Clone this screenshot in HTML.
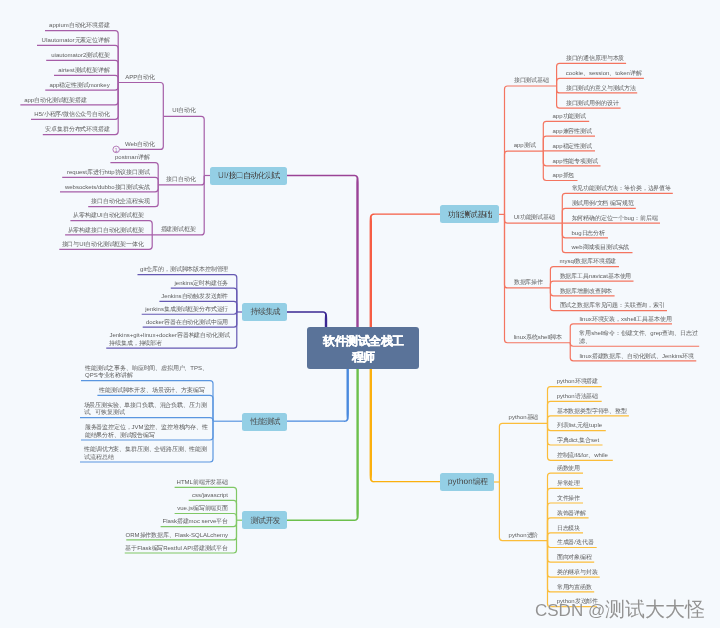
<!DOCTYPE html>
<html><head><meta charset="utf-8"><style>
html,body{margin:0;padding:0;}
body{width:720px;height:628px;background:#f5f9fd;position:relative;overflow:hidden;font-family:"Liberation Sans",sans-serif;}
.t{position:absolute;font-size:6px;line-height:7.7px;color:#5c5c5c;white-space:nowrap;letter-spacing:-0.15px;}
.a{letter-spacing:0;}
.b{position:absolute;background:#94cfe5;border-radius:2.5px;color:#4a4a4a;white-space:nowrap;display:flex;align-items:center;justify-content:center;}
.b i{font-style:normal;letter-spacing:0.1px;}
.b span{font-size:16.4px;line-height:17px;letter-spacing:-1.4px;text-indent:1.4px;transform:scale(0.5) translateY(-0.4px);display:inline-block;will-change:transform;}
.c{position:absolute;left:307px;top:327px;width:112px;height:42px;background:#5a7399;border-radius:3px;}
.c span{position:absolute;left:0;top:6px;width:112px;color:#fff;font-weight:bold;font-size:11.5px;line-height:16px;text-align:center;letter-spacing:-0.5px;text-indent:0.5px;-webkit-text-stroke:0.35px #fff;will-change:transform;}
.wm{position:absolute;left:535px;top:598px;font-size:20px;line-height:22px;color:rgba(120,120,120,0.8);white-space:nowrap;text-shadow:0 0 1.5px rgba(255,255,255,.9);}
.wm span{font-size:17px;}
</style></head><body>
<svg width="720" height="628" viewBox="0 0 720 628" style="position:absolute;left:0;top:0"><path d="M118.2,82.5 V33.7 Q118.2,30.7 115.2,30.7 H45" fill="none" stroke="#a65ea8" stroke-width="1.2"/><path d="M118.2,82.5 V48.4 Q118.2,45.4 115.2,45.4 H37" fill="none" stroke="#a65ea8" stroke-width="1.2"/><path d="M118.2,82.5 V63.3 Q118.2,60.3 115.2,60.3 H46.2" fill="none" stroke="#a65ea8" stroke-width="1.2"/><path d="M118.2,82.5 V78.3 Q118.2,75.3 115.2,75.3 H54" fill="none" stroke="#a65ea8" stroke-width="1.2"/><path d="M118.2,82.5 V87.1 Q118.2,90.1 115.2,90.1 H45.25" fill="none" stroke="#a65ea8" stroke-width="1.2"/><path d="M118.2,82.5 V101.8 Q118.2,104.8 115.2,104.8 H20.35" fill="none" stroke="#a65ea8" stroke-width="1.2"/><path d="M118.2,82.5 V116.3 Q118.2,119.3 115.2,119.3 H31" fill="none" stroke="#a65ea8" stroke-width="1.2"/><path d="M118.2,82.5 V131.6 Q118.2,134.6 115.2,134.6 H42.8" fill="none" stroke="#a65ea8" stroke-width="1.2"/><path d="M163.3,116.3 V85.5 Q163.3,82.5 160.3,82.5 H118.2" fill="none" stroke="#a65ea8" stroke-width="1.2"/><path d="M163.3,116.3 V146.4 Q163.3,149.4 160.3,149.4 H119.6" fill="none" stroke="#a65ea8" stroke-width="1.2"/><path d="M158.2,184.9 V165.7 Q158.2,162.7 155.2,162.7 H110.4" fill="none" stroke="#a65ea8" stroke-width="1.2"/><path d="M158.2,184.9 V180.3 Q158.2,177.3 155.2,177.3 H62.2" fill="none" stroke="#a65ea8" stroke-width="1.2"/><path d="M158.2,184.9 V188.8 Q158.2,191.8 155.2,191.8 H60" fill="none" stroke="#a65ea8" stroke-width="1.2"/><path d="M158.2,184.9 V203.7 Q158.2,206.7 155.2,206.7 H88.2" fill="none" stroke="#a65ea8" stroke-width="1.2"/><path d="M152.2,234.9 V223.7 Q152.2,220.7 149.2,220.7 H70.4" fill="none" stroke="#a65ea8" stroke-width="1.2"/><path d="M152.2,234.9 H65.1" fill="none" stroke="#a65ea8" stroke-width="1.2"/><path d="M152.2,234.9 V246.3 Q152.2,249.3 149.2,249.3 H59.3" fill="none" stroke="#a65ea8" stroke-width="1.2"/><path d="M204.2,175.5 V119.3 Q204.2,116.3 201.2,116.3 H163.3" fill="none" stroke="#a65ea8" stroke-width="1.2"/><path d="M204.2,175.5 V181.9 Q204.2,184.9 201.2,184.9 H158.2" fill="none" stroke="#a65ea8" stroke-width="1.2"/><path d="M204.2,175.5 V231.9 Q204.2,234.9 201.2,234.9 H152.2" fill="none" stroke="#a65ea8" stroke-width="1.2"/><path d="M236.8,312 V277.7 Q236.8,274.7 233.8,274.7 H137.5" fill="none" stroke="#6558b2" stroke-width="1.2"/><path d="M236.8,312 V291.2 Q236.8,288.2 233.8,288.2 H170.8" fill="none" stroke="#6558b2" stroke-width="1.2"/><path d="M236.8,312 V304.3 Q236.8,301.3 233.8,301.3 H159.4" fill="none" stroke="#6558b2" stroke-width="1.2"/><path d="M236.8,312 V311.25 Q236.8,314.25 233.8,314.25 H141.7" fill="none" stroke="#6558b2" stroke-width="1.2"/><path d="M236.8,312 V324.2 Q236.8,327.2 233.8,327.2 H142.7" fill="none" stroke="#6558b2" stroke-width="1.2"/><path d="M236.8,312 V345.2 Q236.8,348.2 233.8,348.2 H106.25" fill="none" stroke="#6558b2" stroke-width="1.2"/><path d="M213,421.2 V383.6 Q213,380.6 210.0,380.6 H81" fill="none" stroke="#5a96e0" stroke-width="1.2"/><path d="M213,421.2 V398.4 Q213,395.4 210.0,395.4 H97.4" fill="none" stroke="#5a96e0" stroke-width="1.2"/><path d="M213,421.2 V420.7 Q213,417.7 210.0,417.7 H80" fill="none" stroke="#5a96e0" stroke-width="1.2"/><path d="M213,421.2 V437.0 Q213,440 210.0,440 H81" fill="none" stroke="#5a96e0" stroke-width="1.2"/><path d="M213,421.2 V459.0 Q213,462 210.0,462 H80" fill="none" stroke="#5a96e0" stroke-width="1.2"/><path d="M236.5,520.2 V490.4 Q236.5,487.4 233.5,487.4 H174.6" fill="none" stroke="#80c866" stroke-width="1.2"/><path d="M236.5,520.2 V503.4 Q236.5,500.4 233.5,500.4 H188.7" fill="none" stroke="#80c866" stroke-width="1.2"/><path d="M236.5,520.2 V516.5 Q236.5,513.5 233.5,513.5 H174.6" fill="none" stroke="#80c866" stroke-width="1.2"/><path d="M236.5,520.2 V523.6 Q236.5,526.6 233.5,526.6 H160.6" fill="none" stroke="#80c866" stroke-width="1.2"/><path d="M236.5,520.2 V536.9 Q236.5,539.9 233.5,539.9 H126.25" fill="none" stroke="#80c866" stroke-width="1.2"/><path d="M236.5,520.2 V550.0 Q236.5,553 233.5,553 H124.75" fill="none" stroke="#80c866" stroke-width="1.2"/><path d="M504.5,214.4 V89.0 Q504.5,86 507.5,86 H556.6" fill="none" stroke="#f47560" stroke-width="1.2"/><path d="M504.5,214.4 V154.2 Q504.5,151.2 507.5,151.2 H543.3" fill="none" stroke="#f47560" stroke-width="1.2"/><path d="M504.5,214.4 V220.2 Q504.5,223.2 507.5,223.2 H562.3" fill="none" stroke="#f47560" stroke-width="1.2"/><path d="M504.5,214.4 V284.9 Q504.5,287.9 507.5,287.9 H550.4" fill="none" stroke="#f47560" stroke-width="1.2"/><path d="M504.5,214.4 V339.75 Q504.5,342.75 507.5,342.75 H570.25" fill="none" stroke="#f47560" stroke-width="1.2"/><path d="M556.6,86 V66.3 Q556.6,63.3 559.6,63.3 H626.1" fill="none" stroke="#f47560" stroke-width="1.2"/><path d="M556.6,86 V81.4 Q556.6,78.4 559.6,78.4 H643.9" fill="none" stroke="#f47560" stroke-width="1.2"/><path d="M556.6,86 V89.9 Q556.6,92.9 559.6,92.9 H637.2" fill="none" stroke="#f47560" stroke-width="1.2"/><path d="M556.6,86 V105.2 Q556.6,108.2 559.6,108.2 H620.6" fill="none" stroke="#f47560" stroke-width="1.2"/><path d="M543.3,151.2 V124.3 Q543.3,121.3 546.3,121.3 H589.2" fill="none" stroke="#f47560" stroke-width="1.2"/><path d="M543.3,151.2 V139.2 Q543.3,136.2 546.3,136.2 H595" fill="none" stroke="#f47560" stroke-width="1.2"/><path d="M543.3,150.8 H595" fill="none" stroke="#f47560" stroke-width="1.2"/><path d="M543.3,151.2 V162.8 Q543.3,165.8 546.3,165.8 H600.5" fill="none" stroke="#f47560" stroke-width="1.2"/><path d="M543.3,151.2 V177.5 Q543.3,180.5 546.3,180.5 H577.5" fill="none" stroke="#f47560" stroke-width="1.2"/><path d="M562.3,223.2 V196.4 Q562.3,193.4 565.3,193.4 H672.8" fill="none" stroke="#f47560" stroke-width="1.2"/><path d="M562.3,223.2 V211.3 Q562.3,208.3 565.3,208.3 H635.8" fill="none" stroke="#f47560" stroke-width="1.2"/><path d="M562.3,223.2 H660" fill="none" stroke="#f47560" stroke-width="1.2"/><path d="M562.3,223.2 V234.8 Q562.3,237.8 565.3,237.8 H608" fill="none" stroke="#f47560" stroke-width="1.2"/><path d="M562.3,223.2 V249.7 Q562.3,252.7 565.3,252.7 H632.5" fill="none" stroke="#f47560" stroke-width="1.2"/><path d="M550.4,288.2 V269.6 Q550.4,266.6 553.4,266.6 H619" fill="none" stroke="#f47560" stroke-width="1.2"/><path d="M550.4,288.2 V284.2 Q550.4,281.2 553.4,281.2 H633.5" fill="none" stroke="#f47560" stroke-width="1.2"/><path d="M550.4,288.2 V292.8 Q550.4,295.8 553.4,295.8 H614.6" fill="none" stroke="#f47560" stroke-width="1.2"/><path d="M550.4,288.2 V307.7 Q550.4,310.7 553.4,310.7 H667" fill="none" stroke="#f47560" stroke-width="1.2"/><path d="M570.25,342.5 V326.8 Q570.25,323.8 573.25,323.8 H672" fill="none" stroke="#f47560" stroke-width="1.2"/><path d="M570.25,342.5 V343.25 Q570.25,346.25 573.25,346.25 H699.2" fill="none" stroke="#f47560" stroke-width="1.2"/><path d="M570.25,342.5 V357.8 Q570.25,360.8 573.25,360.8 H696.25" fill="none" stroke="#f47560" stroke-width="1.2"/><path d="M499.4,482 V426.3 Q499.4,423.3 502.4,423.3 H547.5" fill="none" stroke="#fbbd3a" stroke-width="1.2"/><path d="M499.4,482 V537.6 Q499.4,540.6 502.4,540.6 H547.5" fill="none" stroke="#fbbd3a" stroke-width="1.2"/><path d="M547.5,423.5 V389.7 Q547.5,386.7 550.5,386.7 H601.7" fill="none" stroke="#fbbd3a" stroke-width="1.2"/><path d="M547.5,423.5 V404.4 Q547.5,401.4 550.5,401.4 H601.7" fill="none" stroke="#fbbd3a" stroke-width="1.2"/><path d="M547.5,423.5 V418.8 Q547.5,415.8 550.5,415.8 H628.9" fill="none" stroke="#fbbd3a" stroke-width="1.2"/><path d="M547.5,423.5 V427.6 Q547.5,430.6 550.5,430.6 H605.8" fill="none" stroke="#fbbd3a" stroke-width="1.2"/><path d="M547.5,423.5 V442.0 Q547.5,445 550.5,445 H602.5" fill="none" stroke="#fbbd3a" stroke-width="1.2"/><path d="M547.5,423.5 V457.3 Q547.5,460.3 550.5,460.3 H612.8" fill="none" stroke="#fbbd3a" stroke-width="1.2"/><path d="M547.5,540 V476.1 Q547.5,473.1 550.5,473.1 H583" fill="none" stroke="#fbbd3a" stroke-width="1.2"/><path d="M547.5,540 V491.3 Q547.5,488.3 550.5,488.3 H583" fill="none" stroke="#fbbd3a" stroke-width="1.2"/><path d="M547.5,540 V506.0 Q547.5,503 550.5,503 H583" fill="none" stroke="#fbbd3a" stroke-width="1.2"/><path d="M547.5,540 V520.8 Q547.5,517.8 550.5,517.8 H588.6" fill="none" stroke="#fbbd3a" stroke-width="1.2"/><path d="M547.5,540 V535.8 Q547.5,532.8 550.5,532.8 H583" fill="none" stroke="#fbbd3a" stroke-width="1.2"/><path d="M547.5,540 V544.5 Q547.5,547.5 550.5,547.5 H596.7" fill="none" stroke="#fbbd3a" stroke-width="1.2"/><path d="M547.5,540 V559.2 Q547.5,562.2 550.5,562.2 H594.2" fill="none" stroke="#fbbd3a" stroke-width="1.2"/><path d="M547.5,540 V574.2 Q547.5,577.2 550.5,577.2 H599.7" fill="none" stroke="#fbbd3a" stroke-width="1.2"/><path d="M547.5,540 V588.9 Q547.5,591.9 550.5,591.9 H594.2" fill="none" stroke="#fbbd3a" stroke-width="1.2"/><path d="M547.5,540 V603.7 Q547.5,606.7 550.5,606.7 H597" fill="none" stroke="#fbbd3a" stroke-width="1.2"/><path d="M204.2,175.5 H210" fill="none" stroke="#a65ea8" stroke-width="1.2"/><path d="M236.8,312 H242.1" fill="none" stroke="#6558b2" stroke-width="1.2"/><path d="M213,421.2 H242" fill="none" stroke="#5a96e0" stroke-width="1.2"/><path d="M236.5,520.2 H242" fill="none" stroke="#80c866" stroke-width="1.2"/><path d="M499,214.4 H504.5" fill="none" stroke="#f47560" stroke-width="1.2"/><path d="M494,482 H499.4" fill="none" stroke="#fbbd3a" stroke-width="1.2"/><path d="M286.80,176.15 L287.81,176.15 L288.82,176.15 L289.83,176.15 L290.84,176.15 L291.85,176.15 L292.86,176.15 L293.87,176.15 L294.88,176.15 L295.89,176.15 L296.90,176.15 L297.91,176.15 L298.93,176.15 L299.94,176.15 L300.95,176.15 L301.96,176.15 L302.97,176.15 L303.98,176.15 L304.99,176.15 L306.00,176.15 L307.01,176.15 L308.02,176.15 L309.03,176.15 L310.04,176.15 L311.05,176.15 L312.06,176.15 L313.07,176.15 L314.08,176.15 L315.09,176.15 L316.10,176.15 L317.11,176.15 L318.12,176.15 L319.13,176.15 L320.14,176.15 L321.16,176.15 L322.17,176.15 L323.18,176.15 L324.19,176.15 L325.20,176.15 L326.21,176.15 L327.22,176.15 L328.23,176.15 L329.24,176.15 L330.25,176.15 L331.26,176.15 L332.27,176.15 L333.28,176.15 L334.29,176.15 L335.30,176.15 L336.31,176.15 L337.32,176.15 L338.33,176.15 L339.34,176.15 L340.35,176.15 L341.36,176.15 L342.37,176.15 L343.39,176.15 L344.40,176.15 L345.41,176.15 L346.42,176.15 L347.43,176.15 L348.44,176.15 L349.45,176.15 L350.46,176.15 L351.47,176.15 L352.48,176.15 L353.49,176.15 L354.49,176.18 L354.80,176.21 L355.09,176.29 L355.37,176.40 L355.62,176.55 L355.85,176.73 L356.06,176.94 L356.22,177.18 L356.36,177.43 L356.46,177.69 L356.52,177.96 L356.54,178.23 L356.53,178.52 L356.46,179.50 L356.40,180.51 L356.35,181.51 L356.31,182.51 L356.30,183.52 L356.30,184.52 L356.30,185.52 L356.30,186.53 L356.30,187.53 L356.30,188.53 L356.30,189.54 L356.30,190.54 L356.30,191.54 L356.30,192.55 L356.30,193.55 L356.30,194.55 L356.30,195.56 L356.30,196.56 L356.30,197.56 L356.30,198.57 L356.30,199.57 L356.30,200.57 L356.30,201.58 L356.30,202.58 L356.30,203.58 L356.30,204.59 L356.30,205.59 L356.30,206.59 L356.30,207.60 L356.30,208.60 L356.30,209.60 L356.30,210.61 L356.30,211.61 L356.30,212.61 L356.30,213.62 L356.30,214.62 L356.30,215.62 L356.30,216.63 L356.30,217.63 L356.30,218.63 L356.30,219.64 L356.30,220.64 L356.30,221.64 L356.30,222.65 L356.30,223.65 L356.30,224.65 L356.30,225.66 L356.30,226.66 L356.30,227.66 L356.30,228.67 L356.30,229.67 L356.30,230.67 L356.30,231.68 L356.30,232.68 L356.30,233.68 L356.30,234.69 L356.30,235.69 L356.30,236.69 L356.30,237.70 L356.30,238.70 L356.30,239.70 L356.30,240.71 L356.30,241.71 L356.30,242.71 L356.30,243.72 L356.30,244.72 L356.30,245.72 L356.30,246.73 L356.30,247.73 L356.30,248.73 L356.30,249.74 L356.30,250.74 L356.30,251.74 L356.30,252.75 L356.30,253.75 L356.30,254.76 L356.30,255.76 L356.30,256.76 L356.30,257.77 L356.30,258.77 L356.30,259.77 L356.30,260.78 L356.30,261.78 L356.30,262.78 L356.30,263.79 L356.30,264.79 L356.30,265.79 L356.30,266.80 L356.30,267.80 L356.30,268.80 L356.30,269.81 L356.30,270.81 L356.30,271.81 L356.30,272.82 L356.30,273.82 L356.30,274.82 L356.30,275.83 L356.30,276.83 L356.30,277.83 L356.30,278.84 L356.30,279.84 L356.30,280.84 L356.30,281.85 L356.30,282.85 L356.30,283.85 L356.30,284.86 L356.30,285.86 L356.30,286.86 L356.30,287.87 L356.30,288.87 L356.30,289.87 L356.30,290.88 L356.30,291.88 L356.30,292.88 L356.30,293.89 L356.30,294.89 L356.30,295.89 L356.30,296.90 L356.30,297.90 L356.30,298.90 L356.30,299.91 L356.30,300.91 L356.30,301.91 L356.30,302.92 L356.30,303.92 L356.30,304.92 L356.30,305.93 L356.30,306.93 L356.30,307.93 L356.30,308.94 L356.30,309.94 L356.30,310.94 L356.30,311.95 L356.30,312.95 L356.30,313.95 L356.30,314.96 L356.30,315.96 L356.30,316.96 L356.30,317.97 L356.30,318.97 L356.30,319.97 L356.30,320.98 L356.30,321.98 L356.30,322.98 L356.30,323.99 L356.30,324.99 L356.30,325.99 L356.30,327.00 L356.30,328.00 L358.70,328.00 L358.70,327.00 L358.70,325.99 L358.70,324.99 L358.70,323.99 L358.70,322.98 L358.70,321.98 L358.70,320.98 L358.70,319.97 L358.70,318.97 L358.70,317.97 L358.70,316.96 L358.70,315.96 L358.70,314.96 L358.70,313.95 L358.70,312.95 L358.70,311.95 L358.70,310.94 L358.70,309.94 L358.70,308.94 L358.70,307.93 L358.70,306.93 L358.70,305.93 L358.70,304.92 L358.70,303.92 L358.70,302.92 L358.70,301.91 L358.70,300.91 L358.70,299.91 L358.70,298.90 L358.70,297.90 L358.70,296.90 L358.70,295.89 L358.70,294.89 L358.70,293.89 L358.70,292.88 L358.70,291.88 L358.70,290.88 L358.70,289.87 L358.70,288.87 L358.70,287.87 L358.70,286.86 L358.70,285.86 L358.70,284.86 L358.70,283.85 L358.70,282.85 L358.70,281.85 L358.70,280.84 L358.70,279.84 L358.70,278.84 L358.70,277.83 L358.70,276.83 L358.70,275.83 L358.70,274.82 L358.70,273.82 L358.70,272.82 L358.70,271.81 L358.70,270.81 L358.70,269.81 L358.70,268.80 L358.70,267.80 L358.70,266.80 L358.70,265.79 L358.70,264.79 L358.70,263.79 L358.70,262.78 L358.70,261.78 L358.70,260.78 L358.70,259.77 L358.70,258.77 L358.70,257.77 L358.70,256.76 L358.70,255.76 L358.70,254.76 L358.70,253.75 L358.70,252.75 L358.70,251.74 L358.70,250.74 L358.70,249.74 L358.70,248.73 L358.70,247.73 L358.70,246.73 L358.70,245.72 L358.70,244.72 L358.70,243.72 L358.70,242.71 L358.70,241.71 L358.70,240.71 L358.70,239.70 L358.70,238.70 L358.70,237.70 L358.70,236.69 L358.70,235.69 L358.70,234.69 L358.70,233.68 L358.70,232.68 L358.70,231.68 L358.70,230.67 L358.70,229.67 L358.70,228.67 L358.70,227.66 L358.70,226.66 L358.70,225.66 L358.70,224.65 L358.70,223.65 L358.70,222.65 L358.70,221.64 L358.70,220.64 L358.70,219.64 L358.70,218.63 L358.70,217.63 L358.70,216.63 L358.70,215.62 L358.70,214.62 L358.70,213.62 L358.70,212.61 L358.70,211.61 L358.70,210.61 L358.70,209.60 L358.70,208.60 L358.70,207.60 L358.70,206.59 L358.70,205.59 L358.70,204.59 L358.70,203.58 L358.70,202.58 L358.70,201.58 L358.70,200.57 L358.70,199.57 L358.70,198.57 L358.70,197.56 L358.70,196.56 L358.70,195.56 L358.70,194.55 L358.70,193.55 L358.70,192.55 L358.70,191.54 L358.70,190.54 L358.70,189.54 L358.70,188.53 L358.70,187.53 L358.70,186.53 L358.70,185.52 L358.70,184.52 L358.70,183.52 L358.69,182.51 L358.65,181.51 L358.60,180.51 L358.54,179.50 L358.47,178.48 L358.41,177.99 L358.28,177.49 L358.09,177.01 L357.84,176.57 L357.54,176.17 L357.19,175.81 L356.80,175.51 L356.38,175.25 L355.93,175.05 L355.46,174.92 L354.98,174.84 L354.51,174.82 L353.49,174.85 L352.48,174.85 L351.47,174.85 L350.46,174.85 L349.45,174.85 L348.44,174.85 L347.43,174.85 L346.42,174.85 L345.41,174.85 L344.40,174.85 L343.39,174.85 L342.37,174.85 L341.36,174.85 L340.35,174.85 L339.34,174.85 L338.33,174.85 L337.32,174.85 L336.31,174.85 L335.30,174.85 L334.29,174.85 L333.28,174.85 L332.27,174.85 L331.26,174.85 L330.25,174.85 L329.24,174.85 L328.23,174.85 L327.22,174.85 L326.21,174.85 L325.20,174.85 L324.19,174.85 L323.18,174.85 L322.17,174.85 L321.16,174.85 L320.14,174.85 L319.13,174.85 L318.12,174.85 L317.11,174.85 L316.10,174.85 L315.09,174.85 L314.08,174.85 L313.07,174.85 L312.06,174.85 L311.05,174.85 L310.04,174.85 L309.03,174.85 L308.02,174.85 L307.01,174.85 L306.00,174.85 L304.99,174.85 L303.98,174.85 L302.97,174.85 L301.96,174.85 L300.95,174.85 L299.94,174.85 L298.93,174.85 L297.91,174.85 L296.90,174.85 L295.89,174.85 L294.88,174.85 L293.87,174.85 L292.86,174.85 L291.85,174.85 L290.84,174.85 L289.83,174.85 L288.82,174.85 L287.81,174.85 L286.80,174.85Z" fill="#9a4396" stroke="none"/><path d="M440.00,213.55 L439.00,213.55 L437.99,213.55 L436.99,213.55 L435.99,213.55 L434.98,213.55 L433.98,213.55 L432.98,213.55 L431.98,213.55 L430.97,213.55 L429.97,213.55 L428.97,213.55 L427.96,213.55 L426.96,213.55 L425.96,213.55 L424.95,213.55 L423.95,213.55 L422.95,213.55 L421.95,213.55 L420.94,213.55 L419.94,213.55 L418.94,213.55 L417.93,213.55 L416.93,213.55 L415.93,213.55 L414.92,213.55 L413.92,213.55 L412.92,213.55 L411.92,213.55 L410.91,213.55 L409.91,213.55 L408.91,213.55 L407.90,213.55 L406.90,213.55 L405.90,213.55 L404.89,213.55 L403.89,213.55 L402.89,213.55 L401.88,213.55 L400.88,213.55 L399.88,213.55 L398.88,213.55 L397.87,213.55 L396.87,213.55 L395.87,213.55 L394.86,213.55 L393.86,213.55 L392.86,213.55 L391.85,213.55 L390.85,213.55 L389.85,213.55 L388.85,213.55 L387.84,213.55 L386.84,213.55 L385.84,213.55 L384.83,213.55 L383.83,213.55 L382.83,213.55 L381.82,213.55 L380.82,213.55 L379.82,213.55 L378.82,213.55 L377.81,213.55 L376.81,213.55 L375.81,213.55 L374.80,213.55 L373.79,213.52 L373.32,213.54 L372.84,213.62 L372.37,213.75 L371.92,213.95 L371.50,214.21 L371.11,214.51 L370.76,214.87 L370.46,215.27 L370.21,215.71 L370.02,216.19 L369.89,216.69 L369.83,217.18 L369.76,218.21 L369.70,219.21 L369.65,220.22 L369.61,221.23 L369.60,222.24 L369.60,223.24 L369.60,224.25 L369.60,225.26 L369.60,226.27 L369.60,227.27 L369.60,228.28 L369.60,229.29 L369.60,230.29 L369.60,231.30 L369.60,232.31 L369.60,233.32 L369.60,234.32 L369.60,235.33 L369.60,236.34 L369.60,237.35 L369.60,238.35 L369.60,239.36 L369.60,240.37 L369.60,241.37 L369.60,242.38 L369.60,243.39 L369.60,244.40 L369.60,245.40 L369.60,246.41 L369.60,247.42 L369.60,248.43 L369.60,249.43 L369.60,250.44 L369.60,251.45 L369.60,252.45 L369.60,253.46 L369.60,254.47 L369.60,255.48 L369.60,256.48 L369.60,257.49 L369.60,258.50 L369.60,259.51 L369.60,260.51 L369.60,261.52 L369.60,262.53 L369.60,263.53 L369.60,264.54 L369.60,265.55 L369.60,266.56 L369.60,267.56 L369.60,268.57 L369.60,269.58 L369.60,270.59 L369.60,271.59 L369.60,272.60 L369.60,273.61 L369.60,274.61 L369.60,275.62 L369.60,276.63 L369.60,277.64 L369.60,278.64 L369.60,279.65 L369.60,280.66 L369.60,281.67 L369.60,282.67 L369.60,283.68 L369.60,284.69 L369.60,285.69 L369.60,286.70 L369.60,287.71 L369.60,288.72 L369.60,289.72 L369.60,290.73 L369.60,291.74 L369.60,292.75 L369.60,293.75 L369.60,294.76 L369.60,295.77 L369.60,296.77 L369.60,297.78 L369.60,298.79 L369.60,299.80 L369.60,300.80 L369.60,301.81 L369.60,302.82 L369.60,303.83 L369.60,304.83 L369.60,305.84 L369.60,306.85 L369.60,307.85 L369.60,308.86 L369.60,309.87 L369.60,310.88 L369.60,311.88 L369.60,312.89 L369.60,313.90 L369.60,314.91 L369.60,315.91 L369.60,316.92 L369.60,317.93 L369.60,318.93 L369.60,319.94 L369.60,320.95 L369.60,321.96 L369.60,322.96 L369.60,323.97 L369.60,324.98 L369.60,325.99 L369.60,326.99 L369.60,328.00 L372.00,328.00 L372.00,326.99 L372.00,325.99 L372.00,324.98 L372.00,323.97 L372.00,322.96 L372.00,321.96 L372.00,320.95 L372.00,319.94 L372.00,318.93 L372.00,317.93 L372.00,316.92 L372.00,315.91 L372.00,314.91 L372.00,313.90 L372.00,312.89 L372.00,311.88 L372.00,310.88 L372.00,309.87 L372.00,308.86 L372.00,307.85 L372.00,306.85 L372.00,305.84 L372.00,304.83 L372.00,303.83 L372.00,302.82 L372.00,301.81 L372.00,300.80 L372.00,299.80 L372.00,298.79 L372.00,297.78 L372.00,296.77 L372.00,295.77 L372.00,294.76 L372.00,293.75 L372.00,292.75 L372.00,291.74 L372.00,290.73 L372.00,289.72 L372.00,288.72 L372.00,287.71 L372.00,286.70 L372.00,285.69 L372.00,284.69 L372.00,283.68 L372.00,282.67 L372.00,281.67 L372.00,280.66 L372.00,279.65 L372.00,278.64 L372.00,277.64 L372.00,276.63 L372.00,275.62 L372.00,274.61 L372.00,273.61 L372.00,272.60 L372.00,271.59 L372.00,270.59 L372.00,269.58 L372.00,268.57 L372.00,267.56 L372.00,266.56 L372.00,265.55 L372.00,264.54 L372.00,263.53 L372.00,262.53 L372.00,261.52 L372.00,260.51 L372.00,259.51 L372.00,258.50 L372.00,257.49 L372.00,256.48 L372.00,255.48 L372.00,254.47 L372.00,253.46 L372.00,252.45 L372.00,251.45 L372.00,250.44 L372.00,249.43 L372.00,248.43 L372.00,247.42 L372.00,246.41 L372.00,245.40 L372.00,244.40 L372.00,243.39 L372.00,242.38 L372.00,241.37 L372.00,240.37 L372.00,239.36 L372.00,238.35 L372.00,237.35 L372.00,236.34 L372.00,235.33 L372.00,234.32 L372.00,233.32 L372.00,232.31 L372.00,231.30 L372.00,230.29 L372.00,229.29 L372.00,228.28 L372.00,227.27 L372.00,226.27 L372.00,225.26 L372.00,224.25 L372.00,223.24 L372.00,222.24 L371.99,221.23 L371.95,220.22 L371.90,219.21 L371.84,218.21 L371.77,217.22 L371.76,216.93 L371.78,216.66 L371.84,216.39 L371.94,216.13 L372.08,215.88 L372.24,215.64 L372.45,215.43 L372.68,215.25 L372.93,215.10 L373.21,214.99 L373.50,214.91 L373.81,214.88 L374.80,214.85 L375.81,214.85 L376.81,214.85 L377.81,214.85 L378.82,214.85 L379.82,214.85 L380.82,214.85 L381.82,214.85 L382.83,214.85 L383.83,214.85 L384.83,214.85 L385.84,214.85 L386.84,214.85 L387.84,214.85 L388.85,214.85 L389.85,214.85 L390.85,214.85 L391.85,214.85 L392.86,214.85 L393.86,214.85 L394.86,214.85 L395.87,214.85 L396.87,214.85 L397.87,214.85 L398.88,214.85 L399.88,214.85 L400.88,214.85 L401.88,214.85 L402.89,214.85 L403.89,214.85 L404.89,214.85 L405.90,214.85 L406.90,214.85 L407.90,214.85 L408.91,214.85 L409.91,214.85 L410.91,214.85 L411.92,214.85 L412.92,214.85 L413.92,214.85 L414.92,214.85 L415.93,214.85 L416.93,214.85 L417.93,214.85 L418.94,214.85 L419.94,214.85 L420.94,214.85 L421.95,214.85 L422.95,214.85 L423.95,214.85 L424.95,214.85 L425.96,214.85 L426.96,214.85 L427.96,214.85 L428.97,214.85 L429.97,214.85 L430.97,214.85 L431.98,214.85 L432.98,214.85 L433.98,214.85 L434.98,214.85 L435.99,214.85 L436.99,214.85 L437.99,214.85 L439.00,214.85 L440.00,214.85Z" fill="#f65d44" stroke="none"/><path d="M286.80,312.65 L287.81,312.65 L288.81,312.65 L289.82,312.65 L290.82,312.65 L291.83,312.65 L292.83,312.65 L293.84,312.65 L294.84,312.65 L295.85,312.65 L296.86,312.65 L297.86,312.65 L298.87,312.65 L299.87,312.65 L300.88,312.65 L301.88,312.65 L302.89,312.65 L303.89,312.65 L304.90,312.65 L305.91,312.65 L306.91,312.65 L307.92,312.65 L308.92,312.65 L309.93,312.65 L310.93,312.65 L311.94,312.65 L312.94,312.65 L313.95,312.65 L314.96,312.65 L315.96,312.65 L316.97,312.65 L317.97,312.65 L318.98,312.65 L319.98,312.65 L320.99,312.65 L321.99,312.65 L322.99,312.68 L323.30,312.71 L323.59,312.79 L323.87,312.90 L324.12,313.05 L324.35,313.23 L324.56,313.44 L324.72,313.68 L324.86,313.93 L324.96,314.19 L325.02,314.46 L325.04,314.73 L325.03,315.02 L324.96,316.00 L324.90,317.00 L324.85,318.00 L324.81,319.00 L324.80,320.00 L324.80,321.00 L324.80,322.00 L324.80,323.00 L324.80,324.00 L324.80,325.00 L324.80,326.00 L324.80,327.00 L324.80,328.00 L327.20,328.00 L327.20,327.00 L327.20,326.00 L327.20,325.00 L327.20,324.00 L327.20,323.00 L327.20,322.00 L327.20,321.00 L327.20,320.00 L327.19,319.00 L327.15,318.00 L327.10,317.00 L327.04,316.00 L326.97,314.98 L326.91,314.49 L326.78,313.99 L326.59,313.51 L326.34,313.07 L326.04,312.67 L325.69,312.31 L325.30,312.01 L324.88,311.75 L324.43,311.55 L323.96,311.42 L323.48,311.34 L323.01,311.32 L321.99,311.35 L320.99,311.35 L319.98,311.35 L318.98,311.35 L317.97,311.35 L316.97,311.35 L315.96,311.35 L314.96,311.35 L313.95,311.35 L312.94,311.35 L311.94,311.35 L310.93,311.35 L309.93,311.35 L308.92,311.35 L307.92,311.35 L306.91,311.35 L305.91,311.35 L304.90,311.35 L303.89,311.35 L302.89,311.35 L301.88,311.35 L300.88,311.35 L299.87,311.35 L298.87,311.35 L297.86,311.35 L296.86,311.35 L295.85,311.35 L294.84,311.35 L293.84,311.35 L292.83,311.35 L291.83,311.35 L290.82,311.35 L289.82,311.35 L288.81,311.35 L287.81,311.35 L286.80,311.35Z" fill="#3b2892" stroke="none"/><path d="M286.80,421.85 L287.82,421.85 L288.83,421.85 L289.85,421.85 L290.86,421.85 L291.88,421.85 L292.89,421.85 L293.91,421.85 L294.93,421.85 L295.94,421.85 L296.96,421.85 L297.97,421.85 L298.99,421.85 L300.01,421.85 L301.02,421.85 L302.04,421.85 L303.05,421.85 L304.07,421.85 L305.08,421.85 L306.10,421.85 L307.12,421.85 L308.13,421.85 L309.15,421.85 L310.16,421.85 L311.18,421.85 L312.19,421.85 L313.21,421.85 L314.23,421.85 L315.24,421.85 L316.26,421.85 L317.27,421.85 L318.29,421.85 L319.31,421.85 L320.32,421.85 L321.34,421.85 L322.35,421.85 L323.37,421.85 L324.38,421.85 L325.40,421.85 L326.42,421.85 L327.43,421.85 L328.45,421.85 L329.46,421.85 L330.48,421.85 L331.49,421.85 L332.51,421.85 L333.53,421.85 L334.54,421.85 L335.56,421.85 L336.57,421.85 L337.59,421.85 L338.61,421.85 L339.62,421.85 L340.64,421.85 L341.65,421.85 L342.67,421.85 L343.68,421.85 L344.71,421.88 L345.18,421.86 L345.66,421.78 L346.13,421.65 L346.58,421.45 L347.00,421.19 L347.39,420.89 L347.74,420.53 L348.04,420.13 L348.29,419.69 L348.48,419.21 L348.61,418.71 L348.67,418.22 L348.74,417.20 L348.80,416.19 L348.85,415.19 L348.89,414.18 L348.90,413.18 L348.90,412.18 L348.90,411.17 L348.90,410.17 L348.90,409.16 L348.90,408.16 L348.90,407.16 L348.90,406.15 L348.90,405.15 L348.90,404.14 L348.90,403.14 L348.90,402.14 L348.90,401.13 L348.90,400.13 L348.90,399.12 L348.90,398.12 L348.90,397.12 L348.90,396.11 L348.90,395.11 L348.90,394.10 L348.90,393.10 L348.90,392.10 L348.90,391.09 L348.90,390.09 L348.90,389.08 L348.90,388.08 L348.90,387.08 L348.90,386.07 L348.90,385.07 L348.90,384.06 L348.90,383.06 L348.90,382.06 L348.90,381.05 L348.90,380.05 L348.90,379.04 L348.90,378.04 L348.90,377.04 L348.90,376.03 L348.90,375.03 L348.90,374.02 L348.90,373.02 L348.90,372.02 L348.90,371.01 L348.90,370.01 L348.90,369.00 L348.90,368.00 L346.50,368.00 L346.50,369.00 L346.50,370.01 L346.50,371.01 L346.50,372.02 L346.50,373.02 L346.50,374.02 L346.50,375.03 L346.50,376.03 L346.50,377.04 L346.50,378.04 L346.50,379.04 L346.50,380.05 L346.50,381.05 L346.50,382.06 L346.50,383.06 L346.50,384.06 L346.50,385.07 L346.50,386.07 L346.50,387.08 L346.50,388.08 L346.50,389.08 L346.50,390.09 L346.50,391.09 L346.50,392.10 L346.50,393.10 L346.50,394.10 L346.50,395.11 L346.50,396.11 L346.50,397.12 L346.50,398.12 L346.50,399.12 L346.50,400.13 L346.50,401.13 L346.50,402.14 L346.50,403.14 L346.50,404.14 L346.50,405.15 L346.50,406.15 L346.50,407.16 L346.50,408.16 L346.50,409.16 L346.50,410.17 L346.50,411.17 L346.50,412.18 L346.50,413.18 L346.51,414.18 L346.55,415.19 L346.60,416.19 L346.66,417.20 L346.73,418.18 L346.74,418.47 L346.72,418.74 L346.66,419.01 L346.56,419.27 L346.42,419.52 L346.26,419.76 L346.05,419.97 L345.82,420.15 L345.57,420.30 L345.29,420.41 L345.00,420.49 L344.69,420.52 L343.68,420.55 L342.67,420.55 L341.65,420.55 L340.64,420.55 L339.62,420.55 L338.61,420.55 L337.59,420.55 L336.57,420.55 L335.56,420.55 L334.54,420.55 L333.53,420.55 L332.51,420.55 L331.49,420.55 L330.48,420.55 L329.46,420.55 L328.45,420.55 L327.43,420.55 L326.42,420.55 L325.40,420.55 L324.38,420.55 L323.37,420.55 L322.35,420.55 L321.34,420.55 L320.32,420.55 L319.31,420.55 L318.29,420.55 L317.27,420.55 L316.26,420.55 L315.24,420.55 L314.23,420.55 L313.21,420.55 L312.19,420.55 L311.18,420.55 L310.16,420.55 L309.15,420.55 L308.13,420.55 L307.12,420.55 L306.10,420.55 L305.08,420.55 L304.07,420.55 L303.05,420.55 L302.04,420.55 L301.02,420.55 L300.01,420.55 L298.99,420.55 L297.97,420.55 L296.96,420.55 L295.94,420.55 L294.93,420.55 L293.91,420.55 L292.89,420.55 L291.88,420.55 L290.86,420.55 L289.85,420.55 L288.83,420.55 L287.82,420.55 L286.80,420.55Z" fill="#4a8ade" stroke="none"/><path d="M286.80,520.90 L287.81,520.90 L288.82,520.90 L289.84,520.90 L290.85,520.90 L291.86,520.90 L292.87,520.90 L293.88,520.90 L294.90,520.90 L295.91,520.90 L296.92,520.90 L297.93,520.90 L298.94,520.90 L299.96,520.90 L300.97,520.90 L301.98,520.90 L302.99,520.90 L304.00,520.90 L305.01,520.90 L306.03,520.90 L307.04,520.90 L308.05,520.90 L309.06,520.90 L310.07,520.90 L311.09,520.90 L312.10,520.90 L313.11,520.90 L314.12,520.90 L315.13,520.90 L316.15,520.90 L317.16,520.90 L318.17,520.90 L319.18,520.90 L320.19,520.90 L321.21,520.90 L322.22,520.90 L323.23,520.90 L324.24,520.90 L325.25,520.90 L326.27,520.90 L327.28,520.90 L328.29,520.90 L329.30,520.90 L330.31,520.90 L331.33,520.90 L332.34,520.90 L333.35,520.90 L334.36,520.90 L335.37,520.90 L336.39,520.90 L337.40,520.90 L338.41,520.90 L339.42,520.90 L340.43,520.90 L341.44,520.90 L342.46,520.90 L343.47,520.90 L344.48,520.90 L345.49,520.90 L346.50,520.90 L347.52,520.90 L348.53,520.90 L349.54,520.90 L350.55,520.90 L351.56,520.90 L352.58,520.90 L353.59,520.90 L354.61,520.93 L355.08,520.91 L355.56,520.83 L356.03,520.70 L356.48,520.50 L356.90,520.24 L357.29,519.94 L357.64,519.58 L357.94,519.18 L358.19,518.74 L358.38,518.26 L358.51,517.76 L358.57,517.27 L358.64,516.25 L358.70,515.25 L358.75,514.24 L358.79,513.24 L358.80,512.24 L358.80,511.24 L358.80,510.24 L358.80,509.24 L358.80,508.23 L358.80,507.23 L358.80,506.23 L358.80,505.23 L358.80,504.23 L358.80,503.23 L358.80,502.22 L358.80,501.22 L358.80,500.22 L358.80,499.22 L358.80,498.22 L358.80,497.22 L358.80,496.21 L358.80,495.21 L358.80,494.21 L358.80,493.21 L358.80,492.21 L358.80,491.21 L358.80,490.20 L358.80,489.20 L358.80,488.20 L358.80,487.20 L358.80,486.20 L358.80,485.20 L358.80,484.19 L358.80,483.19 L358.80,482.19 L358.80,481.19 L358.80,480.19 L358.80,479.19 L358.80,478.18 L358.80,477.18 L358.80,476.18 L358.80,475.18 L358.80,474.18 L358.80,473.18 L358.80,472.17 L358.80,471.17 L358.80,470.17 L358.80,469.17 L358.80,468.17 L358.80,467.17 L358.80,466.16 L358.80,465.16 L358.80,464.16 L358.80,463.16 L358.80,462.16 L358.80,461.16 L358.80,460.15 L358.80,459.15 L358.80,458.15 L358.80,457.15 L358.80,456.15 L358.80,455.15 L358.80,454.14 L358.80,453.14 L358.80,452.14 L358.80,451.14 L358.80,450.14 L358.80,449.14 L358.80,448.13 L358.80,447.13 L358.80,446.13 L358.80,445.13 L358.80,444.13 L358.80,443.13 L358.80,442.12 L358.80,441.12 L358.80,440.12 L358.80,439.12 L358.80,438.12 L358.80,437.12 L358.80,436.11 L358.80,435.11 L358.80,434.11 L358.80,433.11 L358.80,432.11 L358.80,431.11 L358.80,430.10 L358.80,429.10 L358.80,428.10 L358.80,427.10 L358.80,426.10 L358.80,425.10 L358.80,424.09 L358.80,423.09 L358.80,422.09 L358.80,421.09 L358.80,420.09 L358.80,419.09 L358.80,418.08 L358.80,417.08 L358.80,416.08 L358.80,415.08 L358.80,414.08 L358.80,413.08 L358.80,412.07 L358.80,411.07 L358.80,410.07 L358.80,409.07 L358.80,408.07 L358.80,407.07 L358.80,406.06 L358.80,405.06 L358.80,404.06 L358.80,403.06 L358.80,402.06 L358.80,401.06 L358.80,400.05 L358.80,399.05 L358.80,398.05 L358.80,397.05 L358.80,396.05 L358.80,395.05 L358.80,394.04 L358.80,393.04 L358.80,392.04 L358.80,391.04 L358.80,390.04 L358.80,389.04 L358.80,388.03 L358.80,387.03 L358.80,386.03 L358.80,385.03 L358.80,384.03 L358.80,383.03 L358.80,382.02 L358.80,381.02 L358.80,380.02 L358.80,379.02 L358.80,378.02 L358.80,377.02 L358.80,376.01 L358.80,375.01 L358.80,374.01 L358.80,373.01 L358.80,372.01 L358.80,371.01 L358.80,370.00 L358.80,369.00 L358.80,368.00 L356.40,368.00 L356.40,369.00 L356.40,370.00 L356.40,371.01 L356.40,372.01 L356.40,373.01 L356.40,374.01 L356.40,375.01 L356.40,376.01 L356.40,377.02 L356.40,378.02 L356.40,379.02 L356.40,380.02 L356.40,381.02 L356.40,382.02 L356.40,383.03 L356.40,384.03 L356.40,385.03 L356.40,386.03 L356.40,387.03 L356.40,388.03 L356.40,389.04 L356.40,390.04 L356.40,391.04 L356.40,392.04 L356.40,393.04 L356.40,394.04 L356.40,395.05 L356.40,396.05 L356.40,397.05 L356.40,398.05 L356.40,399.05 L356.40,400.05 L356.40,401.06 L356.40,402.06 L356.40,403.06 L356.40,404.06 L356.40,405.06 L356.40,406.06 L356.40,407.07 L356.40,408.07 L356.40,409.07 L356.40,410.07 L356.40,411.07 L356.40,412.07 L356.40,413.08 L356.40,414.08 L356.40,415.08 L356.40,416.08 L356.40,417.08 L356.40,418.08 L356.40,419.09 L356.40,420.09 L356.40,421.09 L356.40,422.09 L356.40,423.09 L356.40,424.09 L356.40,425.10 L356.40,426.10 L356.40,427.10 L356.40,428.10 L356.40,429.10 L356.40,430.10 L356.40,431.11 L356.40,432.11 L356.40,433.11 L356.40,434.11 L356.40,435.11 L356.40,436.11 L356.40,437.12 L356.40,438.12 L356.40,439.12 L356.40,440.12 L356.40,441.12 L356.40,442.12 L356.40,443.13 L356.40,444.13 L356.40,445.13 L356.40,446.13 L356.40,447.13 L356.40,448.13 L356.40,449.14 L356.40,450.14 L356.40,451.14 L356.40,452.14 L356.40,453.14 L356.40,454.14 L356.40,455.15 L356.40,456.15 L356.40,457.15 L356.40,458.15 L356.40,459.15 L356.40,460.15 L356.40,461.16 L356.40,462.16 L356.40,463.16 L356.40,464.16 L356.40,465.16 L356.40,466.16 L356.40,467.17 L356.40,468.17 L356.40,469.17 L356.40,470.17 L356.40,471.17 L356.40,472.17 L356.40,473.18 L356.40,474.18 L356.40,475.18 L356.40,476.18 L356.40,477.18 L356.40,478.18 L356.40,479.19 L356.40,480.19 L356.40,481.19 L356.40,482.19 L356.40,483.19 L356.40,484.19 L356.40,485.20 L356.40,486.20 L356.40,487.20 L356.40,488.20 L356.40,489.20 L356.40,490.20 L356.40,491.21 L356.40,492.21 L356.40,493.21 L356.40,494.21 L356.40,495.21 L356.40,496.21 L356.40,497.22 L356.40,498.22 L356.40,499.22 L356.40,500.22 L356.40,501.22 L356.40,502.22 L356.40,503.23 L356.40,504.23 L356.40,505.23 L356.40,506.23 L356.40,507.23 L356.40,508.23 L356.40,509.24 L356.40,510.24 L356.40,511.24 L356.40,512.24 L356.41,513.24 L356.45,514.24 L356.50,515.25 L356.56,516.25 L356.63,517.23 L356.64,517.52 L356.62,517.79 L356.56,518.06 L356.46,518.32 L356.32,518.57 L356.16,518.81 L355.95,519.02 L355.72,519.20 L355.47,519.35 L355.19,519.46 L354.90,519.54 L354.59,519.57 L353.59,519.60 L352.58,519.60 L351.56,519.60 L350.55,519.60 L349.54,519.60 L348.53,519.60 L347.52,519.60 L346.50,519.60 L345.49,519.60 L344.48,519.60 L343.47,519.60 L342.46,519.60 L341.44,519.60 L340.43,519.60 L339.42,519.60 L338.41,519.60 L337.40,519.60 L336.39,519.60 L335.37,519.60 L334.36,519.60 L333.35,519.60 L332.34,519.60 L331.33,519.60 L330.31,519.60 L329.30,519.60 L328.29,519.60 L327.28,519.60 L326.27,519.60 L325.25,519.60 L324.24,519.60 L323.23,519.60 L322.22,519.60 L321.21,519.60 L320.19,519.60 L319.18,519.60 L318.17,519.60 L317.16,519.60 L316.15,519.60 L315.13,519.60 L314.12,519.60 L313.11,519.60 L312.10,519.60 L311.09,519.60 L310.07,519.60 L309.06,519.60 L308.05,519.60 L307.04,519.60 L306.03,519.60 L305.01,519.60 L304.00,519.60 L302.99,519.60 L301.98,519.60 L300.97,519.60 L299.96,519.60 L298.94,519.60 L297.93,519.60 L296.92,519.60 L295.91,519.60 L294.90,519.60 L293.88,519.60 L292.87,519.60 L291.86,519.60 L290.85,519.60 L289.84,519.60 L288.82,519.60 L287.81,519.60 L286.80,519.60Z" fill="#6cc04c" stroke="none"/><path d="M440.00,481.05 L439.00,481.05 L437.99,481.05 L436.99,481.05 L435.99,481.05 L434.98,481.05 L433.98,481.05 L432.98,481.05 L431.98,481.05 L430.97,481.05 L429.97,481.05 L428.97,481.05 L427.96,481.05 L426.96,481.05 L425.96,481.05 L424.95,481.05 L423.95,481.05 L422.95,481.05 L421.95,481.05 L420.94,481.05 L419.94,481.05 L418.94,481.05 L417.93,481.05 L416.93,481.05 L415.93,481.05 L414.92,481.05 L413.92,481.05 L412.92,481.05 L411.92,481.05 L410.91,481.05 L409.91,481.05 L408.91,481.05 L407.90,481.05 L406.90,481.05 L405.90,481.05 L404.89,481.05 L403.89,481.05 L402.89,481.05 L401.88,481.05 L400.88,481.05 L399.88,481.05 L398.88,481.05 L397.87,481.05 L396.87,481.05 L395.87,481.05 L394.86,481.05 L393.86,481.05 L392.86,481.05 L391.85,481.05 L390.85,481.05 L389.85,481.05 L388.85,481.05 L387.84,481.05 L386.84,481.05 L385.84,481.05 L384.83,481.05 L383.83,481.05 L382.83,481.05 L381.82,481.05 L380.82,481.05 L379.82,481.05 L378.82,481.05 L377.81,481.05 L376.81,481.05 L375.81,481.05 L374.80,481.05 L373.81,481.02 L373.50,480.99 L373.21,480.91 L372.93,480.80 L372.68,480.65 L372.45,480.47 L372.24,480.26 L372.08,480.02 L371.94,479.77 L371.84,479.51 L371.78,479.24 L371.76,478.97 L371.77,478.68 L371.84,477.69 L371.90,476.69 L371.95,475.68 L371.99,474.67 L372.00,473.67 L372.00,472.66 L372.00,471.66 L372.00,470.65 L372.00,469.64 L372.00,468.64 L372.00,467.63 L372.00,466.62 L372.00,465.62 L372.00,464.61 L372.00,463.60 L372.00,462.60 L372.00,461.59 L372.00,460.59 L372.00,459.58 L372.00,458.57 L372.00,457.57 L372.00,456.56 L372.00,455.55 L372.00,454.55 L372.00,453.54 L372.00,452.53 L372.00,451.53 L372.00,450.52 L372.00,449.52 L372.00,448.51 L372.00,447.50 L372.00,446.50 L372.00,445.49 L372.00,444.48 L372.00,443.48 L372.00,442.47 L372.00,441.46 L372.00,440.46 L372.00,439.45 L372.00,438.45 L372.00,437.44 L372.00,436.43 L372.00,435.43 L372.00,434.42 L372.00,433.41 L372.00,432.41 L372.00,431.40 L372.00,430.39 L372.00,429.39 L372.00,428.38 L372.00,427.38 L372.00,426.37 L372.00,425.36 L372.00,424.36 L372.00,423.35 L372.00,422.34 L372.00,421.34 L372.00,420.33 L372.00,419.32 L372.00,418.32 L372.00,417.31 L372.00,416.31 L372.00,415.30 L372.00,414.29 L372.00,413.29 L372.00,412.28 L372.00,411.27 L372.00,410.27 L372.00,409.26 L372.00,408.25 L372.00,407.25 L372.00,406.24 L372.00,405.24 L372.00,404.23 L372.00,403.22 L372.00,402.22 L372.00,401.21 L372.00,400.20 L372.00,399.20 L372.00,398.19 L372.00,397.18 L372.00,396.18 L372.00,395.17 L372.00,394.17 L372.00,393.16 L372.00,392.15 L372.00,391.15 L372.00,390.14 L372.00,389.13 L372.00,388.13 L372.00,387.12 L372.00,386.11 L372.00,385.11 L372.00,384.10 L372.00,383.10 L372.00,382.09 L372.00,381.08 L372.00,380.08 L372.00,379.07 L372.00,378.06 L372.00,377.06 L372.00,376.05 L372.00,375.04 L372.00,374.04 L372.00,373.03 L372.00,372.03 L372.00,371.02 L372.00,370.01 L372.00,369.01 L372.00,368.00 L369.60,368.00 L369.60,369.01 L369.60,370.01 L369.60,371.02 L369.60,372.03 L369.60,373.03 L369.60,374.04 L369.60,375.04 L369.60,376.05 L369.60,377.06 L369.60,378.06 L369.60,379.07 L369.60,380.08 L369.60,381.08 L369.60,382.09 L369.60,383.10 L369.60,384.10 L369.60,385.11 L369.60,386.11 L369.60,387.12 L369.60,388.13 L369.60,389.13 L369.60,390.14 L369.60,391.15 L369.60,392.15 L369.60,393.16 L369.60,394.17 L369.60,395.17 L369.60,396.18 L369.60,397.18 L369.60,398.19 L369.60,399.20 L369.60,400.20 L369.60,401.21 L369.60,402.22 L369.60,403.22 L369.60,404.23 L369.60,405.24 L369.60,406.24 L369.60,407.25 L369.60,408.25 L369.60,409.26 L369.60,410.27 L369.60,411.27 L369.60,412.28 L369.60,413.29 L369.60,414.29 L369.60,415.30 L369.60,416.31 L369.60,417.31 L369.60,418.32 L369.60,419.32 L369.60,420.33 L369.60,421.34 L369.60,422.34 L369.60,423.35 L369.60,424.36 L369.60,425.36 L369.60,426.37 L369.60,427.38 L369.60,428.38 L369.60,429.39 L369.60,430.39 L369.60,431.40 L369.60,432.41 L369.60,433.41 L369.60,434.42 L369.60,435.43 L369.60,436.43 L369.60,437.44 L369.60,438.45 L369.60,439.45 L369.60,440.46 L369.60,441.46 L369.60,442.47 L369.60,443.48 L369.60,444.48 L369.60,445.49 L369.60,446.50 L369.60,447.50 L369.60,448.51 L369.60,449.52 L369.60,450.52 L369.60,451.53 L369.60,452.53 L369.60,453.54 L369.60,454.55 L369.60,455.55 L369.60,456.56 L369.60,457.57 L369.60,458.57 L369.60,459.58 L369.60,460.59 L369.60,461.59 L369.60,462.60 L369.60,463.60 L369.60,464.61 L369.60,465.62 L369.60,466.62 L369.60,467.63 L369.60,468.64 L369.60,469.64 L369.60,470.65 L369.60,471.66 L369.60,472.66 L369.60,473.67 L369.61,474.67 L369.65,475.68 L369.70,476.69 L369.76,477.69 L369.83,478.72 L369.89,479.21 L370.02,479.71 L370.21,480.19 L370.46,480.63 L370.76,481.03 L371.11,481.39 L371.50,481.69 L371.92,481.95 L372.37,482.15 L372.84,482.28 L373.32,482.36 L373.79,482.38 L374.80,482.35 L375.81,482.35 L376.81,482.35 L377.81,482.35 L378.82,482.35 L379.82,482.35 L380.82,482.35 L381.82,482.35 L382.83,482.35 L383.83,482.35 L384.83,482.35 L385.84,482.35 L386.84,482.35 L387.84,482.35 L388.85,482.35 L389.85,482.35 L390.85,482.35 L391.85,482.35 L392.86,482.35 L393.86,482.35 L394.86,482.35 L395.87,482.35 L396.87,482.35 L397.87,482.35 L398.88,482.35 L399.88,482.35 L400.88,482.35 L401.88,482.35 L402.89,482.35 L403.89,482.35 L404.89,482.35 L405.90,482.35 L406.90,482.35 L407.90,482.35 L408.91,482.35 L409.91,482.35 L410.91,482.35 L411.92,482.35 L412.92,482.35 L413.92,482.35 L414.92,482.35 L415.93,482.35 L416.93,482.35 L417.93,482.35 L418.94,482.35 L419.94,482.35 L420.94,482.35 L421.95,482.35 L422.95,482.35 L423.95,482.35 L424.95,482.35 L425.96,482.35 L426.96,482.35 L427.96,482.35 L428.97,482.35 L429.97,482.35 L430.97,482.35 L431.98,482.35 L432.98,482.35 L433.98,482.35 L434.98,482.35 L435.99,482.35 L436.99,482.35 L437.99,482.35 L439.00,482.35 L440.00,482.35Z" fill="#fbb00e" stroke="none"/><circle cx="116.2" cy="149.4" r="3.3" fill="#f4f8fc" stroke="#a65ea8" stroke-width="0.8"/><text x="116.2" y="151.6" font-size="5" text-anchor="middle" fill="#a65ea8" font-family="Liberation Sans">1</text></svg>
<div class="b" style="left:210px;top:167px;width:77px;height:17.5px"><span><i>UI/</i>接口自动化测试</span></div><div class="b" style="left:242.1px;top:302.7px;width:44.70000000000002px;height:18.0px"><span>持续集成</span></div><div class="b" style="left:242.1px;top:412.7px;width:44.70000000000002px;height:18.0px"><span>性能测试</span></div><div class="b" style="left:242.1px;top:511.3px;width:44.70000000000002px;height:18.19999999999999px"><span>测试开发</span></div><div class="b" style="left:440px;top:205.3px;width:58.80000000000001px;height:17.899999999999977px"><span>功能测试基础</span></div><div class="b" style="left:440px;top:473.1px;width:54.19999999999999px;height:17.69999999999999px"><span><i>python</i>编程</span></div>
<div class="c"><span>软件测试全栈工<br>程师</span></div>
<div style="position:absolute;left:0;top:0;width:720px;height:628px;will-change:transform"><div class="t" style="right:610.3px;text-align:right;top:22.40px"><span class="a">appium</span>自动化环境搭建</div><div class="t" style="right:610.3px;text-align:right;top:37.10px"><span class="a">UIautomator</span>元素定位详解</div><div class="t" style="right:610.3px;text-align:right;top:52.00px"><span class="a">uiautomator2</span>测试框架</div><div class="t" style="right:610.3px;text-align:right;top:67.00px"><span class="a">airtest</span>测试框架详解</div><div class="t" style="right:610.3px;text-align:right;top:81.80px"><span class="a">app</span>稳定性测试<span class="a">monkey</span></div><div class="t" style="left:24.2px;top:96.50px"><span class="a">app</span>自动化测试框架搭建</div><div class="t" style="right:610.3px;text-align:right;top:111.00px"><span class="a">H5/</span>小程序<span class="a">/</span>微信公众号自动化</div><div class="t" style="right:610.3px;text-align:right;top:126.30px">安卓集群分布式环境搭建</div><div class="t" style="right:565.2px;text-align:right;top:74.20px"><span class="a">APP</span>自动化</div><div class="t" style="right:565.2px;text-align:right;top:141.10px"><span class="a">Web</span>自动化</div><div class="t" style="right:570.3px;text-align:right;top:154.40px"><span class="a">postman</span>详解</div><div class="t" style="right:570.3px;text-align:right;top:169.00px"><span class="a">request</span>库进行<span class="a">http</span>协议接口测试</div><div class="t" style="right:570.3px;text-align:right;top:183.50px"><span class="a">websockets/dubbo</span>接口测试实战</div><div class="t" style="right:570.3px;text-align:right;top:198.40px">接口自动化全流程实现</div><div class="t" style="right:576.3px;text-align:right;top:212.40px">从零构建<span class="a">UI</span>自动化测试框架</div><div class="t" style="right:576.3px;text-align:right;top:226.60px">从零构建接口自动化测试框架</div><div class="t" style="right:576.3px;text-align:right;top:241.00px">接口与<span class="a">UI</span>自动化测试框架一体化</div><div class="t" style="right:524.3px;text-align:right;top:107.30px"><span class="a">UI</span>自动化</div><div class="t" style="right:524.3px;text-align:right;top:175.90px">接口自动化</div><div class="t" style="right:524.3px;text-align:right;top:225.90px">搭建测试框架</div><div class="t" style="right:491.7px;text-align:right;top:266.40px"><span class="a">git</span>仓库的，测试脚本版本控制管理</div><div class="t" style="right:491.7px;text-align:right;top:279.90px"><span class="a">jenkins</span>定时构建任务</div><div class="t" style="right:491.7px;text-align:right;top:293.00px"><span class="a">Jenkins</span>自动触发发送邮件</div><div class="t" style="right:491.7px;text-align:right;top:305.95px"><span class="a">jenkins</span>集成测试框架分布式运行</div><div class="t" style="right:491.7px;text-align:right;top:318.90px"><span class="a">docker</span>容器在自动化测试中应用</div><div class="t" style="left:109.4px;top:332.20px"><span class="a">Jenkins+git+linux+docker</span>容器构建自动化测试<br>持续集成，持续部署</div><div class="t" style="left:85px;top:364.60px">性能测试之事务、响应时间、虚拟用户、<span class="a">TPS</span>、<br><span class="a">QPS</span>专业名称讲解</div><div class="t" style="right:515.5px;text-align:right;top:387.10px">性能测试脚本开发、场景设计、方案编写</div><div class="t" style="left:83.5px;top:401.70px">场景压测实验、单接口负载、混合负载、压力测<br>试、可恢复测试</div><div class="t" style="left:84.7px;top:424.00px">服务器监控定位，<span class="a">JVM</span>监控、监控堆栈内存、性<br>能结果分析、测试报告编写</div><div class="t" style="left:84.2px;top:446.00px">性能调优方案、集群压测、全链路压测、性能测<br>试流程总结</div><div class="t" style="right:492.0px;text-align:right;top:479.10px"><span class="a">HTML</span>前端开发基础</div><div class="t" style="right:492.0px;text-align:right;top:492.10px"><span class="a">css/javascript</span></div><div class="t" style="right:492.0px;text-align:right;top:505.20px"><span class="a">vue.js</span>编写前端页面</div><div class="t" style="right:492.0px;text-align:right;top:518.30px"><span class="a">Flask</span>搭建<span class="a">moc serve</span>平台</div><div class="t" style="right:492.0px;text-align:right;top:531.60px"><span class="a">ORM</span>操作数据库、<span class="a">Flask-SQLALchemy</span></div><div class="t" style="right:492.0px;text-align:right;top:544.70px">基于<span class="a">Flask</span>编写<span class="a">Restful API</span>搭建测试平台</div><div class="t" style="left:513.7px;top:77.00px">接口测试基础</div><div class="t" style="left:513.7px;top:142.20px"><span class="a">app</span>测试</div><div class="t" style="left:513.7px;top:214.20px"><span class="a">UI</span>功能测试基础</div><div class="t" style="left:513.7px;top:278.90px">数据库操作</div><div class="t" style="left:513.7px;top:333.75px"><span class="a">linux</span>系统<span class="a">shell</span>脚本</div><div class="t" style="left:565.8000000000001px;top:55.00px">接口的通信原理与本质</div><div class="t" style="left:565.8000000000001px;top:70.10px"><span class="a">cookie</span>、<span class="a">session</span>、<span class="a">token</span>详解</div><div class="t" style="left:565.8000000000001px;top:84.60px">接口测试的意义与测试方法</div><div class="t" style="left:565.8000000000001px;top:99.90px">接口测试用例的设计</div><div class="t" style="left:552.5px;top:113.00px"><span class="a">app</span>功能测试</div><div class="t" style="left:552.5px;top:127.90px"><span class="a">app</span>兼容性测试</div><div class="t" style="left:552.5px;top:142.50px"><span class="a">app</span>稳定性测试</div><div class="t" style="left:552.5px;top:157.50px"><span class="a">app</span>性能专项测试</div><div class="t" style="left:552.5px;top:172.20px"><span class="a">app</span>抓包</div><div class="t" style="left:571.5px;top:185.10px">常见功能测试方法：等价类，边界值等</div><div class="t" style="left:571.5px;top:200.00px">测试用例<span class="a">/</span>文档<span class="a"> </span>编写规范</div><div class="t" style="left:571.5px;top:214.90px">如何精确的定位一个<span class="a">bug</span>：前后端</div><div class="t" style="left:571.5px;top:229.50px"><span class="a">bug</span>日志分析</div><div class="t" style="left:571.5px;top:244.40px"><span class="a">web</span>商城项目测试实战</div><div class="t" style="left:559.6px;top:258.30px"><span class="a">mysql</span>数据库环境搭建</div><div class="t" style="left:559.6px;top:272.90px">数据库工具<span class="a">navicat</span>基本使用</div><div class="t" style="left:559.6px;top:287.50px">数据库增删改查脚本</div><div class="t" style="left:559.6px;top:302.40px">面试之数据库常见问题：关联查询，索引</div><div class="t" style="left:579.45px;top:315.50px"><span class="a">linux</span>环境安装，<span class="a">xshell</span>工具基本使用</div><div class="t" style="left:579.45px;top:330.25px">常用<span class="a">shell</span>命令：创建文件、<span class="a">grep</span>查询、日志过<br>滤、</div><div class="t" style="left:579.45px;top:352.50px"><span class="a">linux</span>搭建数据库、自动化测试、<span class="a">Jenkins</span>环境</div><div class="t" style="left:508.59999999999997px;top:414.30px"><span class="a">python</span>基础</div><div class="t" style="left:508.59999999999997px;top:531.60px"><span class="a">python</span>进阶</div><div class="t" style="left:556.7px;top:378.40px"><span class="a">python</span>环境搭建</div><div class="t" style="left:556.7px;top:393.10px"><span class="a">python</span>语法基础</div><div class="t" style="left:556.7px;top:407.50px">基本数据类型字符串、整型</div><div class="t" style="left:556.7px;top:422.30px">列表<span class="a">list,</span>元组<span class="a">tuple</span></div><div class="t" style="left:556.7px;top:436.70px">字典<span class="a">dict,</span>集合<span class="a">set</span></div><div class="t" style="left:556.7px;top:452.00px">控制流<span class="a">if&amp;for</span>、<span class="a">while</span></div><div class="t" style="left:556.7px;top:464.80px">函数使用</div><div class="t" style="left:556.7px;top:480.00px">异常处理</div><div class="t" style="left:556.7px;top:494.70px">文件操作</div><div class="t" style="left:556.7px;top:509.50px">装饰器详解</div><div class="t" style="left:556.7px;top:524.50px">日志模块</div><div class="t" style="left:556.7px;top:539.20px">生成器<span class="a">/</span>迭代器</div><div class="t" style="left:556.7px;top:553.90px">面向对象编程</div><div class="t" style="left:556.7px;top:568.90px">类的继承与封装</div><div class="t" style="left:556.7px;top:583.60px">常用内置函数</div><div class="t" style="left:556.7px;top:598.40px"><span class="a">python</span>发送邮件</div></div>
<div class="wm" style="will-change:transform"><span>CSDN @</span>测试大大怪</div>
</body></html>
